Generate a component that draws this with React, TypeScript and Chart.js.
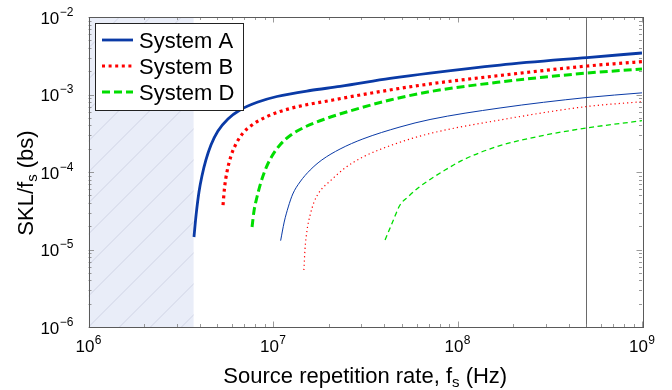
import React, { useEffect, useRef } from 'react';
import { Chart, registerables } from 'chart.js';

Chart.register(...registerables);

// ---------- data ----------
const seriesNames = ['System A', 'System B', 'System D'];

// thick curves
const xAthick = [3.73e6, 3.83e6, 3.97e6, 4.12e6, 4.33e6, 4.61e6, 5.03e6, 5.7e6, 6.62e6, 8.29e6, 1.05e7, 1.59e7, 2.31e7, 4.31e7, 7.1e7, 1.7e8, 5.03e8, 1e9];
const yAthick = [1.45e-5, 2.79e-5, 5.52e-5, 8.88e-5, 1.43e-4, 2.23e-4, 3.38e-4, 4.83e-4, 6.31e-4, 8.0e-4, 9.42e-4, 1.126e-3, 1.27e-3, 1.61e-3, 1.89e-3, 2.4e-3, 3.0e-3, 3.43e-3];

const xBthick = [5.36e6, 5.46e6, 5.63e6, 5.92e6, 6.3e6, 6.88e6, 7.7e6, 9.28e6, 1.24e7, 2.11e7, 3.8e7, 7.1e7, 1.7e8, 5.03e8, 1e9];
const yBthick = [3.75e-5, 6.22e-5, 1.0e-4, 1.61e-4, 2.3e-4, 3.19e-4, 4.04e-4, 5.2e-4, 6.6e-4, 8.49e-4, 1.09e-3, 1.37e-3, 1.76e-3, 2.33e-3, 2.65e-3];

const xDthick = [7.7e6, 7.89e6, 8.19e6, 8.61e6, 9.17e6, 9.88e6, 1.09e7, 1.25e7, 1.49e7, 1.91e7, 2.61e7, 4.31e7, 7.1e7, 1.7e8, 5.03e8, 1e9];
const yDthick = [1.95e-5, 3.14e-5, 4.76e-5, 7.43e-5, 1.13e-4, 1.61e-4, 2.23e-4, 3.0e-4, 3.81e-4, 4.83e-4, 6.13e-4, 8.49e-4, 1.09e-3, 1.45e-3, 1.89e-3, 2.13e-3];

// thin curves
const xAthin = [1.1e7, 1.15e7, 1.21e7, 1.28e7, 1.4e7, 1.59e7, 1.84e7, 2.31e7, 3.07e7, 4.88e7, 7.1e7, 1.7e8, 5.03e8, 1e9];
const yAthin = [1.3e-5, 2.26e-5, 3.54e-5, 5.2e-5, 7.43e-5, 1.06e-4, 1.43e-4, 1.98e-4, 2.67e-4, 3.81e-4, 4.76e-4, 6.7e-4, 9.15e-4, 1.05e-3];

const xBthin = [1.47e7, 1.49e7, 1.53e7, 1.59e7, 1.67e7, 1.8e7, 2.04e7, 2.46e7, 3.07e7, 4.58e7, 7.1e7, 1.7e8, 5.03e8, 1e9];
const yBthin = [5.44e-6, 9.85e-6, 1.79e-5, 2.79e-5, 4.1e-5, 5.69e-5, 7.65e-5, 1.13e-4, 1.56e-4, 2.3e-4, 3.14e-4, 4.69e-4, 7.0e-4, 8.07e-4];

const xDthin = [4.05e7, 4.47e7, 4.88e7, 5.39e7, 6.11e7, 7.1e7, 8.56e7, 1.07e8, 1.64e8, 2.8e8, 5.03e8, 1e9];
const yDthin = [1.33e-5, 2.33e-5, 3.75e-5, 4.76e-5, 6.22e-5, 8.0e-5, 1.06e-4, 1.43e-4, 2.13e-4, 2.91e-4, 3.7e-4, 4.59e-4];

// axes
const xMin = 1e6;
const xMax = 1e9;
const yMin = 1e-6;
const yMax = 1e-2;
const xTickValues = [1e6, 1e7, 1e8, 1e9];
const xTickExponents = ['6', '7', '8', '9'];
const yTickValues = [1e-6, 1e-5, 1e-4, 1e-3, 1e-2];
const yTickExponents = ['\u22126', '\u22125', '\u22124', '\u22123', '\u22122'];
const tickBase = '10';

// annotations
const shadedUpTo = 3.72e6;
const markerLineX = 5e8;

// titles
const xTitleMain = 'Source repetition rate, f';
const xTitleSub = 's';
const xTitleEnd = ' (Hz)';
const yTitleMain = 'SKL/f';
const yTitleSub = 's';
const yTitleEnd = ' (bs)';

// ---------- styles ----------
const BLUE = '#0a3aa6';
const RED = '#ff0000';
const GREEN = '#00dd00';
const FONT = '"Liberation Sans", Arial, Helvetica, sans-serif';

const toPts = (xs: number[], ys: number[]) => xs.map((x, i) => ({ x, y: ys[i] }));

const legendItems = [
  { label: seriesNames[0], color: BLUE, width: 2.8, dash: [] as number[] },
  { label: seriesNames[1], color: RED, width: 3.2, dash: [3, 3.6] },
  { label: seriesNames[2], color: GREEN, width: 3, dash: [8, 4] },
];

const decorPlugin = {
  id: 'decor',
  beforeDatasetsDraw(chart: any) {
    const { ctx, chartArea: a, scales } = chart;
    const xs = scales.x;
    // shaded hatched region
    const xr = xs.getPixelForValue(shadedUpTo);
    ctx.save();
    ctx.beginPath();
    ctx.rect(a.left, a.top, xr - a.left, a.bottom - a.top);
    ctx.clip();
    ctx.fillStyle = '#e9edf8';
    ctx.fillRect(a.left, a.top, xr - a.left, a.bottom - a.top);
    ctx.strokeStyle = 'rgba(140,150,180,0.35)';
    ctx.lineWidth = 0.8;
    const h = a.bottom - a.top;
    for (let x0 = a.left - h; x0 < xr + 10; x0 += 31) {
      ctx.beginPath();
      ctx.moveTo(x0, a.bottom);
      ctx.lineTo(x0 + h, a.top);
      ctx.stroke();
    }
    ctx.restore();
    // vertical marker line
    const xm = Math.round(xs.getPixelForValue(markerLineX)) + 0.5;
    ctx.save();
    ctx.strokeStyle = '#6a6a6a';
    ctx.lineWidth = 1;
    ctx.beginPath();
    ctx.moveTo(xm, a.top);
    ctx.lineTo(xm, a.bottom);
    ctx.stroke();
    ctx.restore();
  },
  afterDatasetsDraw(chart: any) {
    const { ctx, chartArea: a, scales } = chart;
    const xs = scales.x;
    const ys = scales.y;
    ctx.save();
    // ticks (inward, all four sides)
    ctx.strokeStyle = '#808080';
    ctx.lineWidth = 0.8;
    const majorLen = 5.5;
    const minorLen = 3;
    for (let e = 6; e <= 9; e++) {
      for (let m = 1; m <= 9; m++) {
        const v = m * Math.pow(10, e);
        if (v > xMax * 1.0001) break;
        const px = Math.round(xs.getPixelForValue(v)) + 0.5;
        const len = m === 1 ? majorLen : minorLen;
        ctx.beginPath();
        ctx.moveTo(px, a.bottom);
        ctx.lineTo(px, a.bottom - len);
        ctx.moveTo(px, a.top);
        ctx.lineTo(px, a.top + len);
        ctx.stroke();
      }
    }
    for (let e = -6; e <= -2; e++) {
      for (let m = 1; m <= 9; m++) {
        const v = m * Math.pow(10, e);
        if (v > yMax * 1.0001) break;
        const py = Math.round(ys.getPixelForValue(v)) + 0.5;
        const len = m === 1 ? majorLen : minorLen;
        ctx.beginPath();
        ctx.moveTo(a.left, py);
        ctx.lineTo(a.left + len, py);
        ctx.moveTo(a.right, py);
        ctx.lineTo(a.right - len, py);
        ctx.stroke();
      }
    }
    // frame
    ctx.strokeStyle = '#5a5a5a';
    ctx.lineWidth = 1;
    ctx.strokeRect(Math.round(a.left) + 0.5, Math.round(a.top) + 0.5, Math.round(a.right - a.left), Math.round(a.bottom - a.top));

    // tick labels
    ctx.fillStyle = '#000';
    ctx.textBaseline = 'alphabetic';
    const baseFont = '17px ' + FONT;
    const expFont = '12px ' + FONT;
    const drawPow = (x: number, y: number, exp: string, align: 'center' | 'right') => {
      ctx.font = baseFont;
      const bw = ctx.measureText(tickBase).width;
      ctx.font = expFont;
      const ew = ctx.measureText(exp).width;
      const total = bw + ew + 0.5;
      const sx = align === 'center' ? x - total / 2 : x - total;
      ctx.textAlign = 'left';
      ctx.font = baseFont;
      ctx.fillText(tickBase, sx, y);
      ctx.font = expFont;
      ctx.fillText(exp, sx + bw + 0.5, y - 8);
    };
    xTickValues.forEach((v, i) => drawPow(xs.getPixelForValue(v), 352, xTickExponents[i], 'center'));
    yTickValues.forEach((v, i) => drawPow(73.5, ys.getPixelForValue(v) + 6.5, yTickExponents[i], 'right'));

    // axis titles
    const tFont = '22px ' + FONT;
    const sFont = '15px ' + FONT;
    const drawTitle = (main: string, sub: string, end: string, cx: number, baseY: number) => {
      ctx.font = tFont;
      const w1 = ctx.measureText(main).width;
      const w3 = ctx.measureText(end).width;
      ctx.font = sFont;
      const w2 = ctx.measureText(sub).width;
      const total = w1 + w2 + w3;
      let x = cx - total / 2;
      ctx.textAlign = 'left';
      ctx.font = tFont;
      ctx.fillText(main, x, baseY);
      x += w1;
      ctx.font = sFont;
      ctx.fillText(sub, x, baseY + 4);
      x += w2;
      ctx.font = tFont;
      ctx.fillText(end, x, baseY);
    };
    drawTitle(xTitleMain, xTitleSub, xTitleEnd, (a.left + a.right) / 2, 383);
    ctx.save();
    ctx.translate(33, 183);
    ctx.rotate(-Math.PI / 2);
    drawTitle(yTitleMain, yTitleSub, yTitleEnd, 0, 0);
    ctx.restore();

    // legend
    const lx = 95.5, ly = 23.5, lw = 148, lh = 87;
    ctx.fillStyle = '#ffffff';
    ctx.fillRect(lx, ly, lw, lh);
    ctx.strokeStyle = '#222';
    ctx.lineWidth = 1;
    ctx.strokeRect(lx, ly, lw, lh);
    const rowsY = [40, 66, 92];
    legendItems.forEach((it, i) => {
      ctx.save();
      ctx.strokeStyle = it.color;
      ctx.lineWidth = it.width;
      ctx.lineCap = 'butt';
      ctx.setLineDash(it.dash);
      ctx.beginPath();
      ctx.moveTo(102, rowsY[i]);
      ctx.lineTo(133, rowsY[i]);
      ctx.stroke();
      ctx.restore();
      ctx.fillStyle = '#000';
      ctx.font = tFont;
      ctx.textAlign = 'left';
      ctx.textBaseline = 'alphabetic';
      ctx.fillText(it.label, 139, rowsY[i] + 8);
    });
    ctx.restore();
  },
};

export default function App() {
  const ref = useRef<HTMLCanvasElement | null>(null);
  useEffect(() => {
    if (!ref.current) return;
    const mk = (label: string, xs: number[], ys: number[], color: string, width: number, dash: number[]) => ({
      label,
      data: toPts(xs, ys),
      borderColor: color,
      backgroundColor: color,
      borderWidth: width,
      borderDash: dash,
      borderCapStyle: 'butt' as const,
      pointRadius: 0,
      fill: false,
      cubicInterpolationMode: 'monotone' as const,
    });
    const chart = new Chart(ref.current, {
      type: 'line',
      data: {
        datasets: [
          mk(seriesNames[0], xAthick, yAthick, BLUE, 2.8, []),
          mk(seriesNames[1], xBthick, yBthick, RED, 3.2, [3, 3.6]),
          mk(seriesNames[2], xDthick, yDthick, GREEN, 3, [8, 4]),
          mk(seriesNames[0] + ' (thin)', xAthin, yAthin, BLUE, 1, []),
          mk(seriesNames[1] + ' (thin)', xBthin, yBthin, RED, 1.2, [1.2, 3]),
          mk(seriesNames[2] + ' (thin)', xDthin, yDthin, GREEN, 1.3, [5, 3.5]),
        ] as any,
      },
      options: {
        animation: false,
        responsive: false,
        devicePixelRatio: 1,
        layout: { padding: { top: 17, right: 30, bottom: 0, left: 0 } },
        plugins: { legend: { display: false }, tooltip: { enabled: false } },
        scales: {
          x: {
            type: 'logarithmic',
            min: xMin,
            max: xMax,
            grid: { display: false },
            border: { display: false },
            ticks: { display: false },
            afterFit: (s: any) => { s.height = 63; },
          },
          y: {
            type: 'logarithmic',
            min: yMin,
            max: yMax,
            grid: { display: false },
            border: { display: false },
            ticks: { display: false },
            afterFit: (s: any) => { s.width = 88.5; },
          },
        },
      },
      plugins: [decorPlugin],
    });
    return () => chart.destroy();
  }, []);
  return (
    <div style={{ position: 'fixed', left: 0, top: 0, width: 672, height: 390, background: '#fff' }}>
      <canvas ref={ref} width={672} height={390} style={{ display: 'block' }} />
    </div>
  );
}
